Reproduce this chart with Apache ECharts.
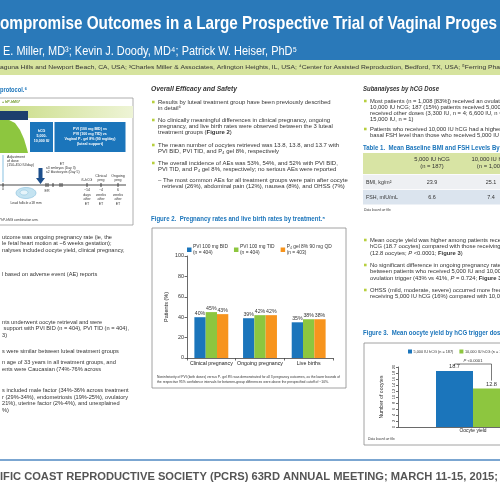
<!DOCTYPE html>
<html><head><meta charset="utf-8">
<script src="https://cdn.jsdelivr.net/npm/echarts@6.0.0/dist/echarts.min.js"></script>
<style>html,body{margin:0;padding:0;background:#fff;overflow:hidden}#c{width:500px;height:500px}</style>
</head><body><div id="c"></div>
<script>
// ---------------- data ----------------
const fig2Categories = ['Clinical pregnancy', 'Ongoing pregnancy', 'Live births'];
const fig2SeriesNames = ['PVI 100 mg BID', 'PVI 100 mg TID', 'P\u2084 gel 8% 90 mg QD'];
const fig2SeriesN = ['(n = 404)', '(n = 404)', '(n = 403)'];
const pviBid = [40, 39, 35];
const pviTid = [45, 42, 38];
const p4Gel = [43, 42, 38];
const fig2YMax = 100, fig2YStep = 20;

const fig3Categories = ['Oocyte yield'];
const fig3SeriesNames = ['5,000 IU hCG (n = 187)', '10,000 IU hCG (n = 1,008)'];
const hcg5000 = [18.7];
const hcg10000 = [12.8];
const fig3YMax = 20, fig3YStep = 2;
const fig3PText = 'P';
const fig3PValue = ' <0.0001';

const table1Heads = ['5,000 IU hCG', '10,000 IU hCG'];
const table1Ns = ['(n = 187)', '(n = 1,008)'];
const table1RowLabels = ['BMI, kg/m\u00b2', 'FSH, mIU/mL'];
const table1Hcg5000 = ['23.9', '6.6'];
const table1Hcg10000 = ['25.1', '7.4'];

// ---------------- styles ----------------
const NARROW = "'Liberation Sans Narrow','Arial Narrow','Liberation Sans',sans-serif";
const BLUE = '#1b75bb', GREEN = '#8dc63f', ORANGE = '#f7941d';
const TXT = '#333';
const mctx = document.createElement('canvas').getContext('2d');
function measure(text, size, weight, family, style) {
  mctx.font = (style || 'normal') + ' ' + (weight || 'normal') + ' ' + size + 'px ' + (family || NARROW);
  return mctx.measureText(text).width;
}
// font size giving a wanted text width
function fitSize(text, width, weight) { return 10 * width / measure(text, 10, weight); }
function T(x, y, text, o) {
  o = o || {};
  const st = {
    text: text, x: 0, y: 0,
    fill: o.c || TXT,
    fontSize: o.f || 6.2,
    fontFamily: o.ff || NARROW,
    fontWeight: o.w || 'normal',
    fontStyle: o.s || 'normal',
    align: o.a || 'left', textAlign: o.a || 'left',
    verticalAlign: 'middle', textVerticalAlign: 'middle'
  };
  if (o.rich) st.rich = o.rich;
  const el = { type: 'text', x: x, y: y, silent: true, style: st, z: 100 };
  let sx = o.sx || 1;
  if (o.fit) sx = o.fit / measure(o.plain || text, st.fontSize, st.fontWeight, st.fontFamily, st.fontStyle);
  el.scaleX = sx;
  if (o.rot) el.rotation = o.rot;
  return el;
}
function R(x, y, w, h, fill, stroke, lw) {
  return { type: 'rect', shape: { x: x, y: y, width: w, height: h }, silent: true, z: 50,
    style: { fill: fill || 'none', stroke: stroke || 'none', lineWidth: lw || 1 } };
}
function L(x1, y1, x2, y2, c, lw) {
  return { type: 'line', shape: { x1: x1, y1: y1, x2: x2, y2: y2 }, silent: true, z: 60,
    style: { stroke: c || '#333', lineWidth: lw || 0.8 } };
}
function P(points, fill) {
  return { type: 'polygon', shape: { points: points }, silent: true, z: 55, style: { fill: fill } };
}
function richB(f, c) {
  return {
    n: { fontSize: f, fontFamily: NARROW, fill: c || TXT, color: c || TXT },
    b: { fontSize: f, fontFamily: NARROW, fontWeight: 'bold', fill: c || TXT, color: c || TXT },
    i: { fontSize: f, fontFamily: NARROW, fontStyle: 'italic', fill: c || TXT, color: c || TXT }
  };
}
function bullet(x, y) { return R(x, y - 1.3, 2.6, 2.6, '#b7cf3f'); }

const G = [];
// ---------- header ----------
G.push(R(0, 0, 500, 60, '#2a79b9'));
G.push(R(0, 60, 500, 15, '#d6e39e'));
G.push(T(0, 24, 'ompromise Outcomes in a Large Prospective Trial of Vaginal Proges', { f: 19, w: 'bold', c: '#fff', fit: 497 }));
G.push(T(3, 52, 'E. Miller, MD\u00b3; Kevin J. Doody, MD\u2074; Patrick W. Heiser, PhD\u2075', { f: 12, c: '#fff', fit: 294 }));
G.push(T(0, 67.5, 'aguna Hills and Newport Beach, CA, USA; \u00b3Charles Miller & Associates, Arlington Heights, IL, USA; \u2074Center for Assisted Reproduction, Bedford, TX, USA; \u2075Ferring Pha', { f: 5.6, c: '#333', fit: 500 }));

// ---------- section headings ----------
G.push(T(0, 90, 'protocol.\u2076', { f: 7.2, w: 'bold', c: BLUE, fit: 27 }));
G.push(T(151, 89, 'Overall Efficacy and Safety', { f: 7.5, w: 'bold', s: 'italic', c: '#333', fit: 86 }));
G.push(T(363, 89, 'Subanalyses by hCG Dose', { f: 7.5, w: 'bold', s: 'italic', c: '#333', fit: 76 }));

// ---------- protocol diagram (left) ----------
G.push(R(-5, 98, 138, 127, 'none', '#9a9a9a', 0.8));
G.push({ type: 'rect', shape: { x: 0, y: 106, width: 133, height: 12 }, silent: true, z: 50,
  style: { fill: { type: 'linear', x: 0, y: 0, x2: 1, y2: 0, colorStops: [{ offset: 0, color: '#c9dc86' }, { offset: 1, color: '#eef4d6' }] } } });
G.push(R(0, 111, 28, 9, '#1d3f6d'));
G.push(T(2, 102, '+ hP-hMG*', { f: 3.6, w: 'bold', c: '#6f9a2a' }));
G.push(P([[0, 120], [9, 120], [15, 123], [20, 130], [24, 139], [27, 149], [28, 153], [0, 153]], GREEN));
G.push(R(30, 122, 23, 30, BLUE));
G.push(R(54.5, 122, 71, 30, BLUE));
['hCG', '5,000-', '10,000 IU'].forEach((s, i) => G.push(T(41.5, 131 + i * 5, s, { f: 3.6, w: 'bold', c: '#fff', a: 'center' })));
['PVI (100 mg BID) vs', 'PVI (100 mg TID) vs', 'Vaginal P\u2084 gel 8% (90 mg/day)', '(luteal support)'].forEach((s, i) => G.push(T(90, 129 + i * 5, s, { f: 3.6, w: 'bold', c: '#fff', a: 'center' })));
G.push(L(3, 155, 3, 182, '#9ccbe6', 1.2));
['Adjustment', 'of dose', '(150-450 IU/day)'].forEach((s, i) => G.push(T(7, 157 + i * 4, s, { f: 3.6 })));
G.push(P([[38.5, 168], [42.5, 168], [42.5, 178], [45, 178], [40.5, 184], [36, 178], [38.5, 178]], '#1d4f8c'));
G.push(T(62, 164, 'ET', { f: 3.6, a: 'center' }));
G.push(T(46, 168.5, '\u22643 embryos (Day 3)', { f: 3.4 }));
G.push(T(46, 172.5, '\u22642 blastocysts (Day 5)', { f: 3.4 }));
G.push(L(0, 185, 126, 185, '#333', 0.9));
[3, 46, 48, 53, 60, 62].forEach(x => G.push(L(x, 183, x, 187, '#333', 0.9)));
[87, 101, 118].forEach(x => G.push(L(x, 183, x, 187, '#333', 0.9)));
G.push(T(3, 189, '0', { f: 3.6, a: 'center' }));
G.push(T(47, 191, 'ER', { f: 3.6, a: 'center' }));
G.push(T(87, 180, '\u00df-hCG', { f: 3.6, a: 'center' }));
G.push(T(101, 176, 'Clinical', { f: 3.6, a: 'center' }));
G.push(T(101, 180, 'preg', { f: 3.6, a: 'center' }));
G.push(T(118, 176, 'Ongoing', { f: 3.6, a: 'center' }));
G.push(T(118, 180, 'preg', { f: 3.6, a: 'center' }));
[['~14', 'days', 'after', 'ET', 87], ['~4', 'weeks', 'after', 'ET', 101], ['6', 'weeks', 'after', 'ET', 118]].forEach(a => {
  for (let i = 0; i < 4; i++) G.push(T(a[4], 190 + i * 4.5, a[i], { f: 3.6, a: 'center' }));
});
G.push({ type: 'ellipse', shape: { cx: 26, cy: 193, rx: 10, ry: 5.5 }, silent: true, z: 55, style: { fill: '#c4e3f1', stroke: '#86bedb', lineWidth: 0.6 } });
G.push({ type: 'ellipse', shape: { cx: 24, cy: 192.5, rx: 4, ry: 2.5 }, silent: true, z: 56, style: { fill: '#e6f4fa', stroke: '#86bedb', lineWidth: 0.5 } });
G.push(T(26, 203, 'Lead follicle \u226518 mm', { f: 3.4, a: 'center' }));
G.push(T(0, 220, '*hP-hMG combination arm.', { f: 3.2 }));

// ---------- left column text ----------
const col1 = [
  [237, 'utcome was ongoing pregnancy rate (ie, the'],
  [243.5, 'le fetal heart motion at ~6 weeks gestation);'],
  [250, 'nalyses included oocyte yield, clinical pregnancy,'],
  [274, 'l based on adverse event (AE) reports'],
  [322, 'nts underwent oocyte retrieval and were'],
  [328.5, ' support with PVI BID (n = 404), PVI TID (n = 404),'],
  [335, '3)'],
  [351, 's were similar between luteal treatment groups'],
  [362.5, 'n age of 33 years in all treatment groups, and'],
  [369, 'ents were Caucasian (74%-76% across'],
  [390.5, 's included male factor (34%-36% across treatment'],
  [397, 'r (29%-34%), endometriosis (19%-25%), ovulatory'],
  [403.5, '21%), uterine factor (2%-4%), and unexplained'],
  [410, '%)']
];
const k1 = 110 / measure('utcome was ongoing pregnancy rate (ie, the', 6.2);
col1.forEach(r => G.push(T(2, r[0], r[1], { sx: k1 })));

// ---------- column 2 text ----------
const k2 = 172 / measure('No clinically meaningful differences in clinical pregnancy, ongoing', 6.2);
const rb = richB(6.2);
const col2 = [
  [102, 'Results by luteal treatment group have been previously described', true],
  [108, 'in detail\u2076'],
  [120, 'No clinically meaningful differences in clinical pregnancy, ongoing', true],
  [126, 'pregnancy, and live birth rates were observed between the 3 luteal'],
  [132, '{n|treatment groups (}{b|Figure 2}{n|)}', false, true],
  [145, 'The mean number of oocytes retrieved was 13.8, 13.8, and 13.7 with', true],
  [151, 'PVI BID, PVI TID, and P\u2084 gel 8%, respectively'],
  [163, 'The overall incidence of AEs was 53%, 54%, and 52% with PVI BID,', true],
  [169, 'PVI TID, and P\u2084 gel 8%, respectively; no serious AEs were reported']
];
col2.forEach(r => {
  if (r[2]) G.push(bullet(152, r[0]));
  G.push(T(158, r[0], r[1], { sx: k2, rich: r[3] ? rb : null }));
});
G.push(T(158, 180, '\u2013 The most common AEs for all treatment groups were pain after oocyte', { sx: k2 }));
G.push(T(162, 186, 'retrieval (26%), abdominal pain (12%), nausea (8%), and OHSS (7%)', { sx: k2 }));
G.push(T(151, 219, 'Figure 2.  Pregnancy rates and live birth rates by treatment.\u2075', { f: 7, w: 'bold', c: BLUE, fit: 174 }));
G.push(R(152, 228, 194, 160, 'none', '#8a8a8a', 0.8));
G.push(T(157, 377, 'Noninferiority of PVI (both doses) versus P\u2084 gel 8% was demonstrated for all 3 pregnancy outcomes, as the lower bounds of', { f: 3.3, fit: 183 }));
G.push(T(157, 382.5, 'the respective 95% confidence intervals for between-group differences were above the prespecified cutoff of \u221210%.', { f: 3.3, fit: 172 }));

// ---------- column 3 text ----------
const k3 = 129 / measure('basal FSH level than those who received 5,000 IU', 6.2);
const col3 = [
  [101, 'Most patients (n = 1,008 [83%]) received an ovulation trigger of', true],
  [107, '10,000 IU hCG; 187 (15%) patients received 5,000 IU hCG, and 23'],
  [113, 'received other doses (3,300 IU, n = 4; 6,600 IU, n = 18;'],
  [119, '15,000 IU, n = 1)'],
  [129, 'Patients who received 10,000 IU hCG had a higher mean BMI and', true],
  [135, 'basal FSH level than those who received 5,000 IU hCG (Table 1)'],
  [240, 'Mean oocyte yield was higher among patients receiving 5,000 IU', true],
  [246.5, 'hCG (18.7 oocytes) compared with those receiving 10,000 IU hCG'],
  [253, '{n|(12.8 oocytes; }{i|P}{n| <0.0001; }{b|Figure 3}{n|)}', false, true],
  [265, 'No significant difference in ongoing pregnancy rate was observed', true],
  [271.5, 'between patients who received 5,000 IU and 10,000 IU hCG as the'],
  [278, '{n|ovulation trigger (43% vs 41%, }{i|P}{n| = 0.724; }{b|Figure 3}{n|)}', false, true],
  [290, 'OHSS (mild, moderate, severe) occurred more frequently in patients', true],
  [296.5, 'receiving 5,000 IU hCG (16%) compared with 10,000 IU hCG (7%)']
];
col3.forEach(r => {
  if (r[2]) G.push(bullet(364, r[0]));
  G.push(T(370, r[0], r[1], { sx: k3, rich: r[3] ? rb : null }));
});
const kFig = 174 / measure('Figure 2.  Pregnancy rates and live birth rates by treatment.\u2075', 7, 'bold');
G.push(T(363, 148, 'Table 1.  Mean Baseline BMI and FSH Levels By hCG Dose', { f: 7, w: 'bold', c: BLUE, sx: kFig }));
// table
G.push(R(363, 153, 150, 21, '#d8e4a4'));
G.push(R(363, 174.8, 150, 14.4, '#eef0f3'));
G.push(R(363, 190, 150, 14.4, '#dbe4ee'));
const tCols = [432, 491];
[table1Heads, table1Ns].forEach((arr, j) => arr.forEach((s, i) => G.push(T(tCols[i], 159 + j * 7.5, s, { a: 'center', f: 6.2, sx: k3 }))));
table1RowLabels.forEach((s, i) => {
  G.push(T(366, 182 + i * 15.2, s, { f: 5.6, sx: k3 }));
  G.push(T(tCols[0], 182 + i * 15.2, table1Hcg5000[i], { a: 'center', f: 5.8, sx: k3 }));
  G.push(T(tCols[1], 182 + i * 15.2, table1Hcg10000[i], { a: 'center', f: 5.8, sx: k3 }));
});
G.push(T(364, 210, 'Data based on file.', { f: 3.3, s: 'italic' }));
G.push(T(363, 333, 'Figure 3.  Mean oocyte yield by hCG trigger dose', { f: 7, w: 'bold', c: BLUE, sx: kFig }));
G.push(R(364, 343, 150, 102, 'none', '#8a8a8a', 0.8));
G.push(T(368, 439, 'Data based on file.', { f: 3.3, s: 'italic' }));

// ---------- footer ----------
G.push(L(0, 460, 500, 460, '#4f89c2', 1.6));
G.push(T(0, 477.5, 'IFIC COAST REPRODUCTIVE SOCIETY (PCRS) 63RD ANNUAL MEETING; MARCH 11-15, 2015;', { f: 10, w: 'bold', ff: "'Liberation Sans','DejaVu Sans',sans-serif", c: '#555', fit: 498 }));

// ---------------- chart ----------------
const fsCat2 = fitSize('Clinical pregnancy', 43);
const fsLeg2 = fitSize('PVI 100 mg BID', 35);
const fsBar2 = fitSize('40%', 10.5);
const fsY2 = fitSize('100', 9);
const fsName2 = fitSize('Patients (%)', 30);
const fsLeg3 = fitSize('5,000 IU hCG (n = 187)', 40);
const fsCat3 = fitSize('Oocyte yield', 27);
const fsName3 = fitSize('Number of oocytes', 43);
const fsBar3 = fitSize('18.7', 11);

const chart = echarts.init(document.getElementById('c'), null, { renderer: 'canvas', width: 500, height: 500 });
const axisLineStyle = { color: '#444', width: 0.8 };
const barLabel = (fmt, fs) => ({ show: true, position: 'top', distance: 1.5, formatter: fmt, fontSize: fs, fontFamily: NARROW, color: '#333' });
const option = {
  animation: false,
  backgroundColor: '#fff',
  textStyle: { fontFamily: NARROW },
  grid: [
    { left: 187, top: 256, width: 146, height: 102, outerBoundsMode: 'none', containLabel: false },
    { left: 398, top: 367, width: 150, height: 60, outerBoundsMode: 'none', containLabel: false }
  ],
  legend: [
    { data: fig2SeriesNames, left: 187, top: 240, width: 200, orient: 'horizontal', icon: 'rect', itemWidth: 4.5, itemHeight: 4.5, itemGap: 6, padding: 0, selectedMode: false,
      formatter: name => name + '\n' + fig2SeriesN[fig2SeriesNames.indexOf(name)],
      textStyle: { fontSize: fsLeg2, fontFamily: NARROW, color: '#333', lineHeight: 6.5, padding: [6.5, 0, 0, -3.5] } },
    { data: fig3SeriesNames, left: 408, top: 349.5, width: 250, orient: 'horizontal', icon: 'rect', itemWidth: 4, itemHeight: 4, itemGap: 6, padding: 0, selectedMode: false,
      textStyle: { fontSize: fsLeg3, fontFamily: NARROW, color: '#333', padding: [0, 0, 0, -3.5] } }
  ],
  xAxis: [
    { gridIndex: 0, type: 'category', data: fig2Categories, axisLine: { lineStyle: axisLineStyle },
      axisTick: { show: true, length: 2.5, lineStyle: axisLineStyle },
      axisLabel: { fontSize: fsCat2, fontFamily: NARROW, color: '#222', margin: 3.5, interval: 0 } },
    { gridIndex: 1, type: 'category', data: fig3Categories, axisLine: { lineStyle: axisLineStyle },
      axisTick: { show: false }, axisLabel: { fontSize: fsCat3, fontFamily: NARROW, color: '#222', margin: 1.5 } }
  ],
  yAxis: [
    { gridIndex: 0, type: 'value', min: 0, max: fig2YMax, interval: fig2YStep, name: 'Patients (%)', nameLocation: 'middle', nameGap: 18, nameRotate: 90,
      nameTextStyle: { fontSize: fsName2, fontFamily: NARROW, color: '#222' },
      axisLine: { show: true, lineStyle: axisLineStyle }, axisTick: { show: true, length: 2.5, lineStyle: axisLineStyle },
      axisLabel: { fontSize: fsY2, fontFamily: NARROW, color: '#333', margin: 3 }, splitLine: { show: false } },
    { gridIndex: 1, type: 'value', min: 0, max: fig3YMax, interval: fig3YStep, name: 'Number of oocytes', nameLocation: 'middle', nameGap: 14, nameRotate: 90,
      nameTextStyle: { fontSize: fsName3, fontFamily: NARROW, color: '#222' },
      axisLine: { show: true, lineStyle: axisLineStyle }, axisTick: { show: true, length: 2, lineStyle: axisLineStyle },
      axisLabel: { fontSize: 4, fontFamily: NARROW, color: '#333', margin: 2, rotate: 90, hideOverlap: false, interval: 0 }, splitLine: { show: false } }
  ],
  series: [
    { type: 'bar', name: fig2SeriesNames[0], xAxisIndex: 0, yAxisIndex: 0, data: pviBid, barWidth: 11.3, barGap: '0%', itemStyle: { color: BLUE }, label: barLabel('{c}%', fsBar2) },
    { type: 'bar', name: fig2SeriesNames[1], xAxisIndex: 0, yAxisIndex: 0, data: pviTid, barWidth: 11.3, barGap: '0%', itemStyle: { color: GREEN }, label: barLabel('{c}%', fsBar2) },
    { type: 'bar', name: fig2SeriesNames[2], xAxisIndex: 0, yAxisIndex: 0, data: p4Gel, barWidth: 11.3, barGap: '0%', itemStyle: { color: ORANGE }, label: barLabel('{c}%', fsBar2) },
    { type: 'bar', name: fig3SeriesNames[0], xAxisIndex: 1, yAxisIndex: 1, data: hcg5000, barWidth: 37, barGap: '0%', itemStyle: { color: BLUE }, label: barLabel('{c}', fsBar3) },
    { type: 'bar', name: fig3SeriesNames[1], xAxisIndex: 1, yAxisIndex: 1, data: hcg10000, barWidth: 37, barGap: '0%', itemStyle: { color: GREEN }, label: barLabel('{c}', fsBar3) }
  ]
};
chart.setOption(option);

// P-value bracket, positioned from the axes
const cx = chart.convertToPixel({ xAxisIndex: 1 }, 0);
const xb = cx - 18.5, xg = cx + 18.5;
const yTop = chart.convertToPixel({ yAxisIndex: 1 }, fig3YMax) - 3;
const yG = chart.convertToPixel({ yAxisIndex: 1 }, hcg10000[0]) - 8;
G.push(L(xb, yTop + 2, xb, yTop, '#444', 0.7));
G.push(L(xb, yTop, xg, yTop, '#444', 0.7));
G.push(L(xg, yTop, xg, yG, '#444', 0.7));
const fsP = fitSize('P <0.0001', 19);
G.push(T(cx, yTop - 3.5, '{i|' + fig3PText + '}{n|' + fig3PValue + '}', { a: 'center', rich: richB(fsP) }));

chart.setOption({ graphic: { elements: G } });
</script>
</body></html>
